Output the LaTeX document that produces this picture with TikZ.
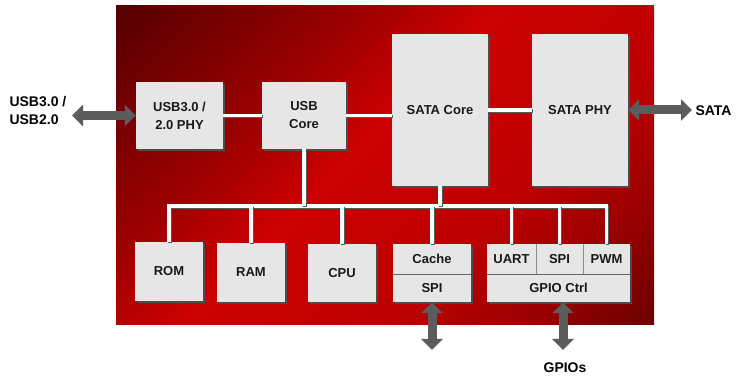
\documentclass[tikz,border=0pt]{standalone}
\usepackage{fontspec}
\setmainfont{Liberation Sans}
\usetikzlibrary{arrows.meta,shadows}

\definecolor{chipdark}{HTML}{560000}
\definecolor{chipdim}{HTML}{9C0000}
\definecolor{chipred}{HTML}{CC0000}
\definecolor{chiplow}{HTML}{BE0000}
\definecolor{chipend}{HTML}{6E0000}
\definecolor{boxgray}{HTML}{E6E6E6}
\definecolor{arrgray}{HTML}{5C5C5C}

% diagonal red fill of the chip
\pgfdeclareverticalshading{chipshade}{100bp}{color(0bp)=(chipend); color(15bp)=(chipend);
  color(26bp)=(chipdim); color(37bp)=(chiplow); color(54bp)=(chipred);
  color(65bp)=(chipdim); color(85bp)=(chipdark); color(100bp)=(chipdark)}

\begin{document}
\begin{tikzpicture}[x=1pt,y=-1pt,
  blk/.style={fill=boxgray, inner sep=0pt, align=center, text=black!90,
    font=\fontsize{13}{18}\selectfont\bfseries,
    drop shadow={shadow xshift=2pt, shadow yshift=-2pt, fill=black!70, opacity=1}},
  wire/.style={draw=white, line width=3.5pt,
    preaction={draw=black!65, line width=3.5pt, transform canvas={xshift=1pt, yshift=-1pt}}},
  bigarr/.style={draw=arrgray, line width=9pt,
    {Triangle[length=11pt,width=21pt]}-{Triangle[length=11pt,width=21pt]}},
  lbl/.style={font=\fontsize{14}{18}\selectfont\bfseries, align=left}]
\useasboundingbox (0,0) rectangle (737,379);

% Chip background
\shade[shading=chipshade, shading angle=45] (116,6) rectangle (654,325);

% Upper row
\node[blk, minimum width=87pt, minimum height=67pt] (usbphy) at (179.5,115.5) {USB3.0 /\\2.0 PHY};
\node[blk, minimum width=84pt, minimum height=67pt] (usbcore) at (304,115.5) {USB\\Core};
\node[blk, minimum width=96pt, minimum height=152pt] (satacore) at (440,110) {SATA Core};
\node[blk, minimum width=96pt, minimum height=152pt] (sataphy) at (580,110) {SATA PHY};

% Lower row
\node[blk, minimum width=68pt, minimum height=59pt] (rom) at (169,271.5) {ROM};
\node[blk, minimum width=68pt, minimum height=59pt] (ram) at (251,272.5) {RAM};
\node[blk, minimum width=68pt, minimum height=58pt] (cpu) at (342,273) {CPU};
\node[blk, minimum width=78pt, minimum height=30pt] (cache) at (432,259) {Cache};
\node[blk, minimum width=78pt, minimum height=28pt] (spi) at (432,288) {SPI};
\node[blk, minimum width=49pt, minimum height=30pt] (uart) at (511.5,259) {UART};
\node[blk, minimum width=47pt, minimum height=30pt] (gspi) at (559.5,259) {SPI};
\node[blk, minimum width=47pt, minimum height=30pt] (pwm) at (606.5,259) {PWM};
\node[blk, minimum width=143pt, minimum height=28pt] (gpio) at (558.5,288) {GPIO Ctrl};

% Dividers
\draw[black!60, line width=1pt] (cache.south west) -- (cache.south east);
\draw[black!60, line width=1pt] (uart.south west) -- (pwm.south east);
\draw[black!45, line width=1pt] (uart.north east) -- (uart.south east);
\draw[black!45, line width=1pt] (gspi.north east) -- (gspi.south east);

% Links
\draw[wire] (usbphy) -- (usbcore);
\draw[wire] (usbcore.east) -- (usbcore.east -| satacore.west);
\draw[wire] (satacore) -- (sataphy);

% Bus
\coordinate (bus) at (0,206);
\draw[wire] (rom.north) |- (bus -| pwm.north) -- (pwm.north);
\foreach \n in {usbcore,satacore,ram,cpu,cache,uart,gspi}
  \draw[wire] (\n) -- (\n |- bus);

% Outside ports
\coordinate (usbend) at (72,115.5);
\coordinate (sataend) at (692,110);
\coordinate (spiend) at (432,350);
\coordinate (gpioend) at (563,350);
\draw[bigarr] (usbend) -- (usbphy.west);
\draw[bigarr] (sataphy.east) -- (sataend);
\draw[bigarr] (spi.south) -- (spiend);
\draw[bigarr] (gpio.south -| gpioend) -- (gpioend);

% Labels
\node[lbl, anchor=west] (usblbl) at (6,110) {USB3.0 /\\USB2.0};
\node[lbl, anchor=west] (satalbl) at (692,111) {SATA};
\node[lbl] (gpiolbl) at (565,368) {GPIOs};
\end{tikzpicture}
\end{document}
